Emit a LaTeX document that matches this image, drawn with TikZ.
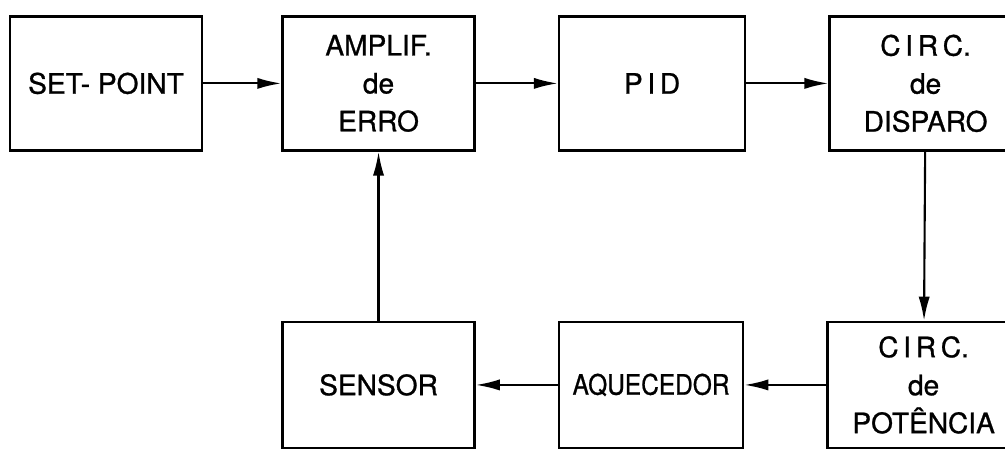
\documentclass[tikz,border=0pt]{standalone}
\usepackage{fontspec}
\setmainfont{TeX Gyre Heros}
\newfontfamily\letra{TeX Gyre Heros}[FakeBold=0.9]
\usetikzlibrary{positioning, arrows.meta}

\begin{document}
\begin{tikzpicture}[
        node distance=2.05cm,
        bloco/.style={draw, line width=1.8pt, minimum width=4.8cm, minimum height=3.35cm,
            align=center, inner sep=2pt, font=\letra\fontsize{20}{27}\selectfont},
        baixo/.style={bloco, minimum height=3.15cm},
        seta/.style={line width=1.5pt, -{Latex[length=0.6cm, width=0.28cm]}},
    ]

    \clip (0,0) rectangle (25.125,11.225);

    % linha de cima
    \node[bloco] (setpoint) at (2.65,9.14) {SET- POINT};
    \node[bloco, right=1.95cm of setpoint] (amplif) {AMPLIF.\\de\\ERRO};
    \node[bloco, minimum width=4.65cm, right=of amplif] (pid) {P\,I\,D};
    \node[bloco, right=of pid] (disparo) {C\,I\,R\,C.\\de\\DISPARO};

    % linha de baixo
    \node[baixo, below=4.225cm of amplif] (sensor) {SENSOR};
    \node[baixo, minimum width=4.6cm, right=of sensor] (aquecedor) {\scalebox{0.87}[1]{AQUECEDOR}};
    \node[baixo, right=of aquecedor] (potencia) {C\,I\,R\,C.\\de\\POTÊNCIA};

    \draw[seta] (setpoint) -- (amplif);
    \draw[seta] (amplif) -- (pid);
    \draw[seta] (pid) -- (disparo);
    \draw[seta] (disparo) -- (potencia);
    \draw[seta] (potencia) -- (aquecedor);
    \draw[seta] (aquecedor) -- (sensor);
    \draw[seta] (sensor) -- (amplif);

\end{tikzpicture}
\end{document}
